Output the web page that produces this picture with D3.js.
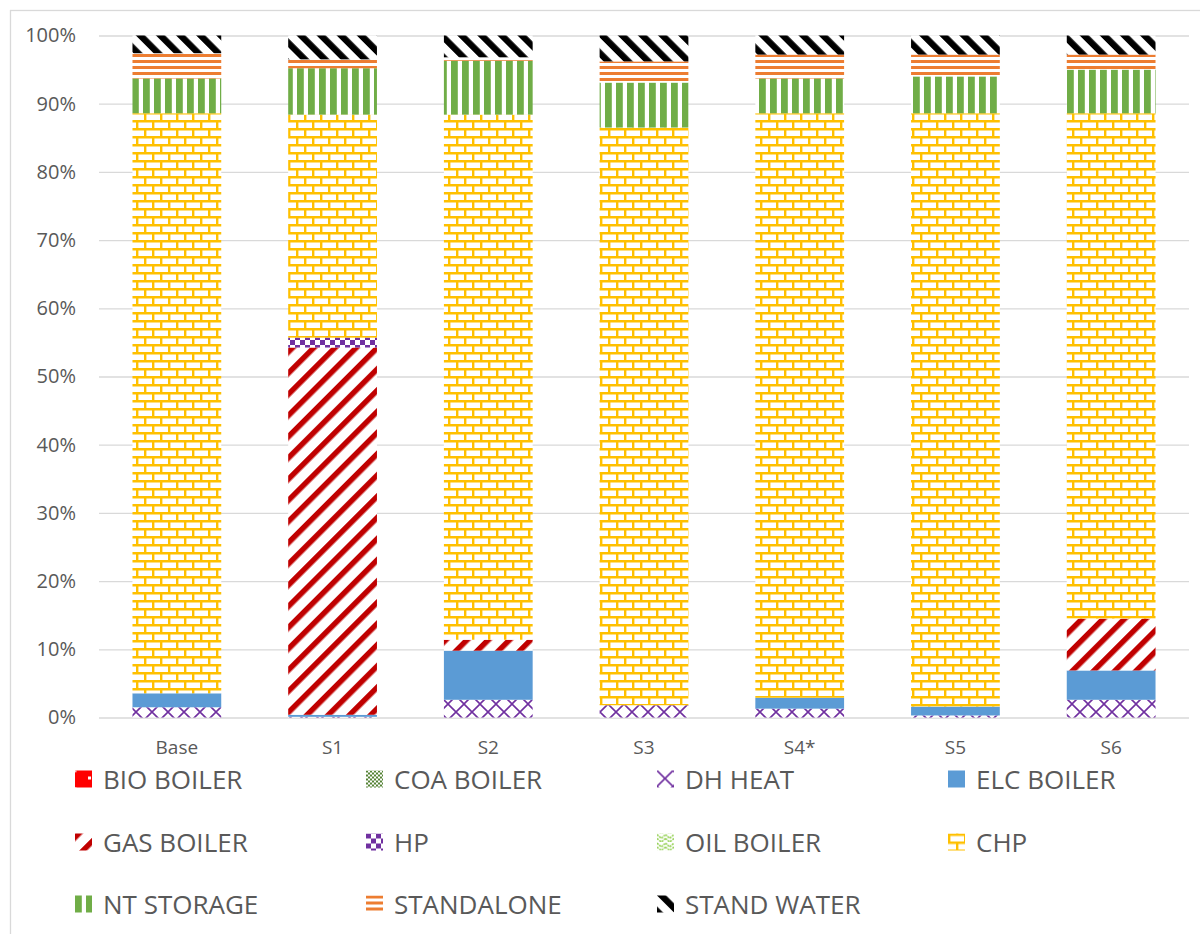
<!DOCTYPE html>
<html>
<head>
<meta charset="utf-8">
<script src="https://cdn.jsdelivr.net/npm/d3@7"></script>
<style>
  html, body { margin: 0; padding: 0; background: #fff; }
  svg { display: block; }
  text { font-family: "Open Sans", "Noto Sans", sans-serif; fill: #595959; }
</style>
</head>
<body>
<svg id="chart" width="1200" height="934"></svg>
<script>
// ---------- DATA ----------
const categories = ["Base", "S1", "S2", "S3", "S4*", "S5", "S6"];
const seriesNames = ["BIO BOILER", "COA BOILER", "DH HEAT", "ELC BOILER", "GAS BOILER", "HP",
                     "OIL BOILER", "CHP", "NT STORAGE", "STANDALONE", "STAND WATER"];
const bioBoiler  = [0, 0, 0, 0, 0, 0, 0];
const coaBoiler  = [0, 0, 0, 0, 0, 0, 0];
const dhHeat     = [1.5, 0.1, 2.6, 1.8, 1.3, 0.3, 2.6];
const elcBoiler  = [2.05, 0.3, 7.2, 0, 1.6, 1.3, 4.3];
const gasBoiler  = [0, 53.85, 1.6, 0, 0, 0, 7.6];
const hp         = [0, 1.45, 0, 0, 0, 0, 0];
const oilBoiler  = [0, 0, 0, 0, 0, 0, 0];
const chp        = [85.05, 32.7, 77.0, 84.7, 85.7, 87.0, 74.1];
const ntStorage  = [5.1, 6.8, 7.9, 6.6, 5.1, 5.4, 6.4];
const standalone = [3.7, 1.3, 0.5, 3.1, 3.5, 3.2, 2.2];
const standWater = [2.6, 3.5, 3.2, 3.8, 2.8, 2.8, 2.8];
const yTickValues = [0, 10, 20, 30, 40, 50, 60, 70, 80, 90, 100];
const yTickLabels = ["0%", "10%", "20%", "30%", "40%", "50%", "60%", "70%", "80%", "90%", "100%"];

const seriesValues = [bioBoiler, coaBoiler, dhHeat, elcBoiler, gasBoiler, hp,
                      oilBoiler, chp, ntStorage, standalone, standWater];
const patternIds = ["p-bio", "p-coa", "p-dh", "p-elc", "p-gas", "p-hp",
                    "p-oil", "p-chp", "p-nt", "p-sa", "p-sw"];

// table for d3.stack
const table = categories.map((c, i) => {
  const row = { cat: c };
  seriesNames.forEach((s, j) => row[s] = seriesValues[j][i]);
  return row;
});

// ---------- SETUP ----------
const svg = d3.select("#chart");
const defs = svg.append("defs");

function pattern(id, w, h, transform) {
  const p = defs.append("pattern").attr("id", id)
    .attr("patternUnits", "userSpaceOnUse").attr("width", w).attr("height", h);
  if (transform) p.attr("patternTransform", transform);
  p.append("rect").attr("width", w).attr("height", h).attr("fill", "#fff");
  return p;
}
// BIO BOILER: red with small white flecks
let p = pattern("p-bio", 17, 17);
p.select("rect").attr("fill", "#FF0000");
p.append("rect").attr("x", 13).attr("y", 6).attr("width", 3).attr("height", 3).attr("fill", "#fff");
p.append("rect").attr("x", 0).attr("y", 0).attr("width", 1.5).attr("height", 1.5).attr("fill", "#fff");
// COA BOILER: fine green checker
p = pattern("p-coa", 4, 4);
p.append("rect").attr("x", 0).attr("y", 0).attr("width", 2).attr("height", 2).attr("fill", "#548235");
p.append("rect").attr("x", 2).attr("y", 2).attr("width", 2).attr("height", 2).attr("fill", "#548235");
// DH HEAT: purple diamond lattice
p = pattern("p-dh", 16, 16);
p.append("path").attr("d", "M0,0 L16,16 M16,0 L0,16").attr("stroke", "#7030A0").attr("stroke-width", 1.6).attr("fill", "none");
// ELC BOILER: solid blue
p = pattern("p-elc", 4, 4);
p.select("rect").attr("fill", "#5B9BD5");
// GAS BOILER: red upward diagonal stripes
p = pattern("p-gas", 15, 15, "rotate(45)");
p.append("rect").attr("x", 0).attr("y", 0).attr("width", 5.5).attr("height", 15).attr("fill", "#C00000");
// HP: purple checkerboard
p = pattern("p-hp", 10, 10);
p.append("rect").attr("x", 0).attr("y", 0).attr("width", 5).attr("height", 5).attr("fill", "#7030A0");
p.append("rect").attr("x", 5).attr("y", 5).attr("width", 5).attr("height", 5).attr("fill", "#7030A0");
// OIL BOILER: light green zigzag
p = pattern("p-oil", 8.5, 8.5);
p.append("path").attr("d", "M0,1 L4.25,5 L8.5,1 M0,5 L4.25,8.5 L8.5,5").attr("stroke", "#92D050").attr("stroke-width", 1.6).attr("fill", "none")
  .attr("stroke-dasharray", "2,1");
// CHP: yellow brick
p = pattern("p-chp", 16, 16);
p.append("path")
  .attr("d", "M0,1.2 H16 M0,9.2 H16 M1.2,1.2 V9.2 M9.2,9.2 V16 M9.2,0 V1.2")
  .attr("stroke", "#FFC000").attr("stroke-width", 2.4).attr("fill", "none");
// NT STORAGE: green vertical stripes
p = pattern("p-nt", 11, 10);
p.append("rect").attr("x", 0).attr("y", 0).attr("width", 6.8).attr("height", 10).attr("fill", "#70AD47");
// STANDALONE: orange horizontal lines
p = pattern("p-sa", 10, 6);
p.append("rect").attr("x", 0).attr("y", 0).attr("width", 10).attr("height", 3).attr("fill", "#ED7D31");
// STAND WATER: black downward diagonal stripes
p = pattern("p-sw", 14.2, 14.2, "rotate(-45)");
p.append("rect").attr("x", 0).attr("y", 0).attr("width", 6.4).attr("height", 14.2).attr("fill", "#000");

// chart border (left & top visible)
svg.append("rect").attr("x", 10.5).attr("y", 10.5).attr("width", 1400).attr("height", 1200)
  .attr("fill", "none").attr("stroke", "#D9D9D9").attr("stroke-width", 1.3);

// ---------- SCALES ----------
const plotLeft = 99, plotRight = 1189, plotTop = 35.5, plotBottom = 717.5;
const x = d3.scaleBand().domain(categories).range([plotLeft, plotRight]).paddingInner(0.43).paddingOuter(0.215);
const y = d3.scaleLinear().domain([0, 100]).range([plotBottom, plotTop]);

// gridlines
const grid = svg.append("g").attr("transform", `translate(${plotLeft},0)`)
  .call(d3.axisLeft(y).tickValues(yTickValues).tickSize(-(plotRight - plotLeft)).tickFormat(""));
grid.select(".domain").remove();
grid.selectAll("line").attr("stroke", "#D9D9D9").attr("stroke-width", 1.3);

// y axis labels
const yAxis = svg.append("g").attr("transform", `translate(76,0)`)
  .call(d3.axisLeft(y).tickValues(yTickValues).tickSize(0).tickPadding(0)
        .tickFormat((d, i) => yTickLabels[i]));
yAxis.select(".domain").remove();
yAxis.selectAll("text").attr("font-size", 20).attr("fill", "#595959")
  .style("font-family", '"Open Sans", sans-serif');

// x axis labels
const xAxis = svg.append("g").attr("transform", `translate(0,${plotBottom})`)
  .call(d3.axisBottom(x).tickSize(0).tickPadding(23));
xAxis.select(".domain").remove();
xAxis.selectAll("text").attr("font-size", 19).attr("fill", "#595959")
  .style("font-family", '"Open Sans", sans-serif');

// ---------- BARS ----------
const stacked = d3.stack().keys(seriesNames)(table);
svg.append("g").selectAll("g").data(stacked).join("g")
  .attr("fill", (d, i) => `url(#${patternIds[i]})`)
  .selectAll("rect").data(d => d).join("rect")
  .attr("x", d => x(d.data.cat))
  .attr("width", x.bandwidth())
  .attr("y", d => y(d[1]))
  .attr("height", d => Math.max(0, y(d[0]) - y(d[1])));

// ---------- LEGEND ----------
const legendCols = [75, 366, 657, 948];
const legendRows = [779, 842, 904];
const legend = svg.append("g");
seriesNames.forEach((s, i) => {
  const cx = legendCols[i % 4], cy = legendRows[Math.floor(i / 4)];
  const g = legend.append("g").attr("transform", `translate(${cx},${cy - 8.5})`);
  g.append("rect").attr("x", 0).attr("y", 0).attr("width", 17).attr("height", 17)
    .attr("fill", `url(#${patternIds[i]})`);
  g.append("text").attr("x", 28).attr("y", 18).attr("font-size", 26).text(s);
});
</script>
</body>
</html>
